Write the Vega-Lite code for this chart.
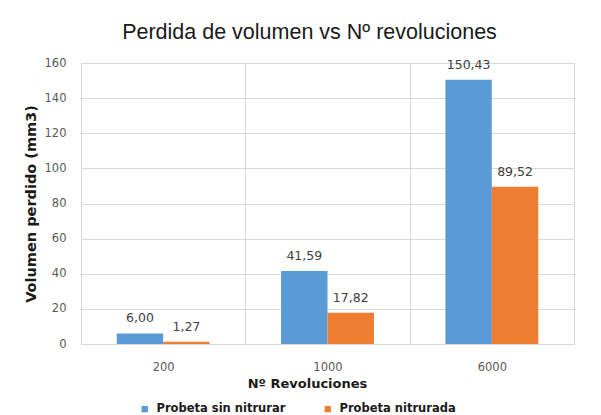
{
  "$schema": "https://vega.github.io/schema/vega-lite/v6.json",
  "autosize": "none",
  "width": 493,
  "height": 281,
  "padding": {"left": 81, "top": 63, "right": 27, "bottom": 71},
  "config": {
    "locale": {"number": {"decimal": ",", "thousands": ".", "grouping": [3], "currency": ["", " €"]}},
    "view": {"stroke": "#d9d9d9", "strokeWidth": 1},
    "axis": {"gridColor": "#d9d9d9", "domainColor": "#d9d9d9", "labelColor": "#595959", "labelFont": "DejaVu Sans", "labelFontSize": 11.5, "titleFont": "DejaVu Sans", "titleColor": "#1a1a1a", "ticks": false}
  },
  "title": {"text": "Perdida de volumen vs Nº revoluciones", "font": "Liberation Sans", "fontSize": 21.5, "fontWeight": "normal", "color": "#1a1a1a", "anchor": "middle", "dx": -18, "offset": 14},
  "data": {"values": [
    {"rev": "200", "serie": "Probeta sin nitrurar", "vol": 6.00},
    {"rev": "200", "serie": "Probeta nitrurada", "vol": 1.27},
    {"rev": "1000", "serie": "Probeta sin nitrurar", "vol": 41.59},
    {"rev": "1000", "serie": "Probeta nitrurada", "vol": 17.82},
    {"rev": "6000", "serie": "Probeta sin nitrurar", "vol": 150.43},
    {"rev": "6000", "serie": "Probeta nitrurada", "vol": 89.52}
  ]},
  "encoding": {
    "x": {"field": "rev", "type": "nominal", "sort": ["200", "1000", "6000"],
      "scale": {"paddingInner": 0, "paddingOuter": 0},
      "axis": {"title": "Nº Revoluciones", "titleFontSize": 13, "titleFontWeight": "bold", "titlePadding": 5, "titleX": 226, "titleAnchor": null, "titleAlign": "center", "labelAngle": 0, "labelPadding": 17, "grid": true, "tickBand": "extent", "domain": true}},
    "xOffset": {"field": "serie", "type": "nominal", "sort": ["Probeta sin nitrurar", "Probeta nitrurada"], "scale": {"paddingInner": 0, "paddingOuter": 0.77}},
    "y": {"field": "vol", "type": "quantitative",
      "scale": {"domain": [0, 160]},
      "axis": {"title": "Volumen perdido (mm3)", "titleFontSize": 14.5, "titleFontWeight": "bold", "titlePadding": 6, "values": [0, 20, 40, 60, 80, 100, 120, 140, 160], "labelPadding": 15, "domain": false}}
  },
  "layer": [
    {"mark": {"type": "bar"},
     "encoding": {
       "color": {"field": "serie", "type": "nominal", "sort": ["Probeta sin nitrurar", "Probeta nitrurada"],
         "scale": {"range": ["#5b9bd5", "#ed7d31"]},
         "legend": {"title": null, "orient": "none", "legendX": 58, "legendY": 340, "direction": "horizontal", "symbolType": "square", "symbolSize": 40, "symbolStrokeWidth": 0, "labelFont": "DejaVu Sans", "labelFontSize": 11.5, "labelFontWeight": "bold", "labelColor": "#1a1a1a", "labelOffset": 6, "columnPadding": 36}}
     }},
    {"mark": {"type": "text", "baseline": "alphabetic", "dy": -11, "font": "DejaVu Sans", "fontSize": 12.5, "color": "#404040"},
     "encoding": {"text": {"field": "vol", "type": "quantitative", "format": ".2f"}}}
  ]
}
